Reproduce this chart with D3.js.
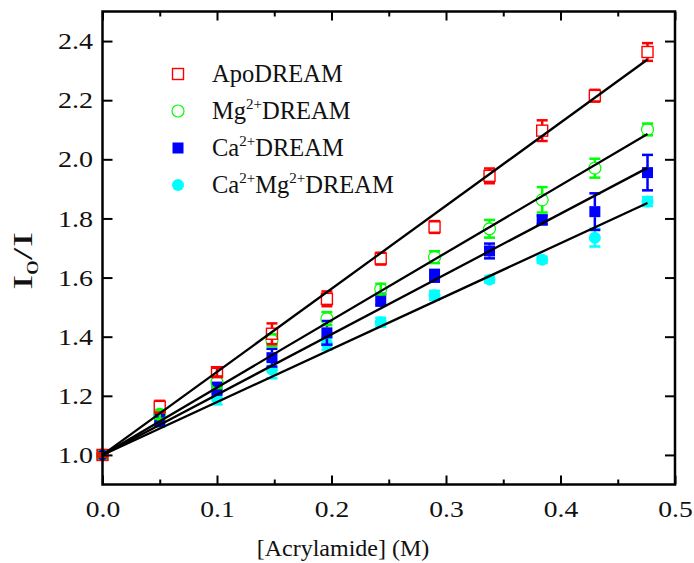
<!DOCTYPE html>
<html>
<head>
<meta charset="utf-8">
<script src="https://cdn.jsdelivr.net/npm/d3@7/dist/d3.min.js"></script>
<style>
  body { margin: 0; background: #fff; }
  svg text { font-family: "Liberation Serif", "Times New Roman", serif; fill: #111; }
</style>
</head>
<body>
<svg id="chart" width="694" height="563"></svg>
<script>
// acrylamide concentration (M)
const conc = [0, 0.05, 0.1, 0.148, 0.196, 0.243, 0.29, 0.338, 0.384, 0.43, 0.476];

// I0/I per form, with error bars
const apo = [1.0, 1.163, 1.28, 1.41, 1.528, 1.664, 1.771, 1.944, 2.097, 2.215, 2.363];
const apoErr = [0.005, 0.02, 0.015, 0.035, 0.025, 0.02, 0.02, 0.025, 0.035, 0.02, 0.03];
const mg = [1.0, 1.137, 1.246, 1.388, 1.461, 1.561, 1.669, 1.765, 1.863, 1.97, 2.101];
const mgErr = [0.005, 0.015, 0.02, 0.02, 0.022, 0.018, 0.02, 0.03, 0.043, 0.032, 0.02];
const ca = [1.0, 1.118, 1.224, 1.329, 1.413, 1.525, 1.606, 1.69, 1.795, 1.823, 1.955];
const caErr = [0.005, 0.02, 0.02, 0.03, 0.04, 0.02, 0.02, 0.025, 0.015, 0.062, 0.06];
const camg = [1.0, 1.111, 1.191, 1.289, 1.376, 1.449, 1.54, 1.593, 1.66, 1.735, 1.857];
const camgErr = [0.005, 0.015, 0.02, 0.03, 0.02, 0.015, 0.015, 0.01, 0.01, 0.03, 0.015];

// Stern-Volmer fits (I0/I = 1 + Ksv [Q])
const ksv = [2.81, 2.28, 2.04, 1.79];
const fitEnd = 0.476;

const xTicks = [0, 0.1, 0.2, 0.3, 0.4, 0.5];
const xMinor = [0.05, 0.15, 0.25, 0.35, 0.45];
const yTicks = [1.0, 1.2, 1.4, 1.6, 1.8, 2.0, 2.2, 2.4];

const series = [
    {name: "Apo", vals: apo, err: apoErr, color: "#ff0000", shape: "square", filled: false},
    {name: "Mg", vals: mg, err: mgErr, color: "#00ff00", shape: "circle", filled: false},
    {name: "Ca", vals: ca, err: caErr, color: "#0000ff", shape: "square", filled: true},
    {name: "CaMg", vals: camg, err: camgErr, color: "#00ffff", shape: "circle", filled: true}
];

const plotLeft = 102.5, plotRight = 675, plotTop = 11.5, plotBottom = 484.5;
const markerSize = 11;

let svg = d3.select("#chart");

let xScale = d3.scaleLinear().domain([0, 0.5]).range([plotLeft, plotRight]);
let yScale = d3.scaleLinear().domain([0.9, 2.5]).range([plotBottom, plotTop]);

function drawMarker(g, shape, filled, color, cx, cy, size) {
    if (shape == "square") {
        g.append("rect")
            .attr("x", cx - size / 2).attr("y", cy - size / 2)
            .attr("width", size).attr("height", size)
            .attr("fill", filled ? color : "none")
            .attr("stroke", color)
            .attr("stroke-width", filled ? 0 : 1.4);
    } else {
        g.append("ellipse")
            .attr("cx", cx).attr("cy", cy)
            .attr("rx", size / 2 + 0.5).attr("ry", size / 2 + 0.5)
            .attr("fill", filled ? color : "none")
            .attr("stroke", color)
            .attr("stroke-width", filled ? 0 : 1.2);
    }
}

// data points + error bars (drawn back to front so ApoDREAM ends on top)
series.slice().reverse().forEach(function(s) {
    let g = svg.append("g");
    conc.forEach(function(c, i) {
        let x = xScale(c), y = yScale(s.vals[i]);
        let y0 = yScale(s.vals[i] - s.err[i]), y1 = yScale(s.vals[i] + s.err[i]);
        let half = markerSize / 2;
        // error bar stems start at the marker edge
        if (y0 - y > half) {
            g.append("line").attr("x1", x).attr("x2", x).attr("y1", y + half).attr("y2", y0)
                .attr("stroke", s.color).attr("stroke-width", 2.5);
            g.append("line").attr("x1", x).attr("x2", x).attr("y1", y - half).attr("y2", y1)
                .attr("stroke", s.color).attr("stroke-width", 2.5);
        } else {
            g.append("line").attr("x1", x).attr("x2", x).attr("y1", y0).attr("y2", y1)
                .attr("stroke", s.color).attr("stroke-width", 2.5);
        }
        [y0, y1].forEach(function(yy) {
            g.append("line").attr("x1", x - 5.5).attr("x2", x + 5.5).attr("y1", yy).attr("y2", yy)
                .attr("stroke", s.color).attr("stroke-width", 2.5);
        });
        drawMarker(g, s.shape, s.filled, s.color, x, y, markerSize);
    });
});

// fit lines
ksv.forEach(function(k) {
    svg.append("line")
        .attr("x1", xScale(0)).attr("y1", yScale(1))
        .attr("x2", xScale(fitEnd)).attr("y2", yScale(1 + k * fitEnd))
        .attr("stroke", "#000").attr("stroke-width", 2.3);
});

// frame
svg.append("rect")
    .attr("x", plotLeft).attr("y", plotTop)
    .attr("width", plotRight - plotLeft).attr("height", plotBottom - plotTop)
    .attr("fill", "none").attr("stroke", "#000").attr("stroke-width", 2.5);

// x axis (bottom + mirrored top), ticks inward
let xAxis = svg.append("g")
    .attr("transform", "translate(0," + plotBottom + ")")
    .call(d3.axisBottom(xScale).tickValues(xTicks).tickFormat(d3.format(".1f")).tickSize(-9).tickPadding(15));
xAxis.select("path").remove();
xAxis.selectAll("line").attr("stroke", "#000").attr("stroke-width", 2);
xAxis.selectAll("text").style("font-size", "24px").attr("fill", "#111")
    .attr("transform", "scale(1.15,1)");

let xMinorG = svg.append("g")
    .attr("transform", "translate(0," + plotBottom + ")")
    .call(d3.axisBottom(xScale).tickValues(xMinor).tickSize(-5).tickFormat(""));
xMinorG.select("path").remove();
xMinorG.selectAll("line").attr("stroke", "#000").attr("stroke-width", 2);

let xTop = svg.append("g")
    .attr("transform", "translate(0," + plotTop + ")")
    .call(d3.axisTop(xScale).tickValues(xTicks).tickSize(-9).tickFormat(""));
xTop.select("path").remove();
xTop.selectAll("line").attr("stroke", "#000").attr("stroke-width", 2);

let xTopMinor = svg.append("g")
    .attr("transform", "translate(0," + plotTop + ")")
    .call(d3.axisTop(xScale).tickValues(xMinor).tickSize(-5).tickFormat(""));
xTopMinor.select("path").remove();
xTopMinor.selectAll("line").attr("stroke", "#000").attr("stroke-width", 2);

// y axis (left + mirrored right)
let yAxis = svg.append("g")
    .attr("transform", "translate(" + plotLeft + ",0)")
    .call(d3.axisLeft(yScale).tickValues(yTicks).tickFormat(d3.format(".1f")).tickSize(-10).tickPadding(8));
yAxis.select("path").remove();
yAxis.selectAll("line").attr("stroke", "#000").attr("stroke-width", 2);
yAxis.selectAll("text").style("font-size", "24px").attr("fill", "#111")
    .attr("transform", "scale(1.17,1)");

let yRight = svg.append("g")
    .attr("transform", "translate(" + plotRight + ",0)")
    .call(d3.axisRight(yScale).tickValues(yTicks).tickSize(-10).tickFormat(""));
yRight.select("path").remove();
yRight.selectAll("line").attr("stroke", "#000").attr("stroke-width", 2);

// axis titles
svg.append("text")
    .attr("x", 343).attr("y", 556)
    .attr("text-anchor", "middle")
    .style("font-size", "24px")
    .text("[Acrylamide] (M)");

let yTitle = svg.append("text")
    .attr("transform", "translate(32,261) rotate(-90)")
    .attr("text-anchor", "middle")
    .style("font-size", "27px");
yTitle.append("tspan").text("I");
yTitle.append("tspan").attr("dy", 6).style("font-size", "17px").text("0");
yTitle.append("tspan").attr("dy", -6).text("/I");
yTitle.attr("textLength", 58).attr("lengthAdjust", "spacingAndGlyphs");

// legend
let legendRows = [
    [["ApoDREAM", false]],
    [["Mg", false], ["2+", true], ["DREAM", false]],
    [["Ca", false], ["2+", true], ["DREAM", false]],
    [["Ca", false], ["2+", true], ["Mg", false], ["2+", true], ["DREAM", false]]
];
series.forEach(function(s, i) {
    let cy = 74 + i * 37;
    drawMarker(svg, s.shape, s.filled, s.color, 178, cy, 11);
    let t = svg.append("text").attr("x", 212).attr("y", cy + 8).style("font-size", "24.5px");
    let raised = false;
    legendRows[i].forEach(function(part) {
        let span = t.append("tspan").text(part[0]);
        if (part[1] && !raised) { span.attr("dy", -10).style("font-size", "15px"); raised = true; }
        else if (!part[1] && raised) { span.attr("dy", 10); raised = false; }
    });
});
</script>
</body>
</html>
